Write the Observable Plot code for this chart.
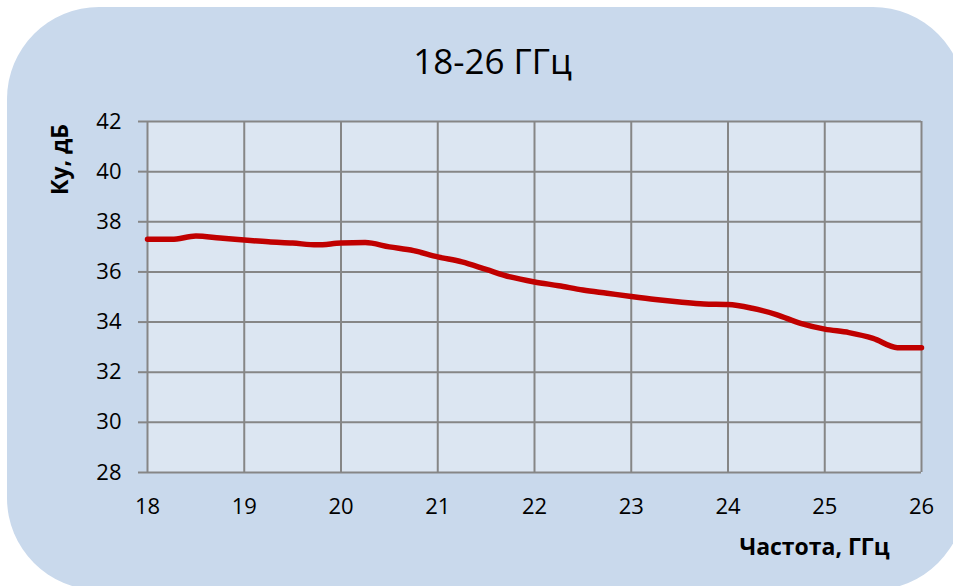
<!DOCTYPE html>
<html>
<head>
<meta charset="utf-8">
<script src="https://cdn.jsdelivr.net/npm/d3@7"></script>
<script src="https://cdn.jsdelivr.net/npm/@observablehq/plot@0.6"></script>
<style>
  html, body { margin: 0; padding: 0; background: #ffffff; overflow: hidden; }
  #wrap { position: relative; width: 953px; height: 586px; overflow: hidden; }
  #bg { position: absolute; left: 7px; top: 7px; width: 958px; height: 583px; border-radius: 92px; background: #c9d9ec; }
  #chart { position: absolute; left: 0; top: 0; }
</style>
</head>
<body>
<div id="wrap"><div id="bg"></div><div id="chart"></div></div>
<script>
const title = "18-26 ГГц";
const yLabel = "Ку, дБ";
const xLabel = "Частота, ГГц";
const xTicks = [18, 19, 20, 21, 22, 23, 24, 25, 26];
const yTicks = [28, 30, 32, 34, 36, 38, 40, 42];
const freq = [18.0, 18.25, 18.5, 18.75, 19.0, 19.25, 19.5, 19.75, 20.0, 20.25, 20.5, 20.75,
  21.0, 21.25, 21.5, 21.75, 22.0, 22.25, 22.5, 22.75, 23.0, 23.25, 23.5, 23.75,
  24.0, 24.25, 24.5, 24.75, 25.0, 25.25, 25.5, 25.75, 26.0];
const gain = [37.3, 37.3, 37.43, 37.35, 37.27, 37.2, 37.15, 37.08, 37.15, 37.17, 37.0, 36.85,
  36.6, 36.4, 36.1, 35.8, 35.6, 35.45, 35.28, 35.15, 35.02, 34.9, 34.8, 34.72,
  34.7, 34.55, 34.3, 33.95, 33.72, 33.58, 33.35, 32.98, 32.98];

const font = "'Open Sans', 'Noto Sans', sans-serif";
const gridColor = "#868686";

const chart = Plot.plot({
  width: 953,
  height: 586,
  marginLeft: 147,
  marginRight: 32,
  marginTop: 121,
  marginBottom: 114,
  style: { background: "transparent", fontFamily: font, fontSize: "22px", color: "#000" },
  x: { domain: [18, 26], label: null },
  y: { domain: [28, 42], label: null },
  marks: [
    Plot.frame({ fill: "#dce6f2", stroke: null }),
    Plot.gridX(xTicks, { stroke: gridColor, strokeOpacity: 1, strokeWidth: 2 }),
    Plot.gridY(yTicks, { stroke: gridColor, strokeOpacity: 1, strokeWidth: 2 }),
    Plot.axisX(xTicks, { tickSize: 0, tickPadding: 26, fontSize: 22, fill: "#000", label: null }),
    Plot.axisY(yTicks, { tickSize: 9, tickPadding: 17, fontSize: 22, stroke: gridColor, strokeWidth: 2, fill: "#000", label: null }),
    Plot.line(gain, { x: freq, y: gain, stroke: "#c00000", strokeWidth: 5.5, curve: "monotone-x" }),
    Plot.text([title], { frameAnchor: "top", textAnchor: "middle", lineAnchor: "middle", dx: -42, dy: -59, fontSize: 35, fill: "#000" }),
    Plot.text([yLabel], { frameAnchor: "top-left", textAnchor: "middle", lineAnchor: "middle", dx: -87, dy: 38, rotate: -90, fontSize: 23, fontWeight: "bold", fill: "#000" }),
    Plot.text([xLabel], { frameAnchor: "bottom", textAnchor: "middle", lineAnchor: "middle", dx: 280, dy: 75, fontSize: 23, fontWeight: "bold", fill: "#000" })
  ]
});
document.getElementById("chart").appendChild(chart);
</script>
</body>
</html>
